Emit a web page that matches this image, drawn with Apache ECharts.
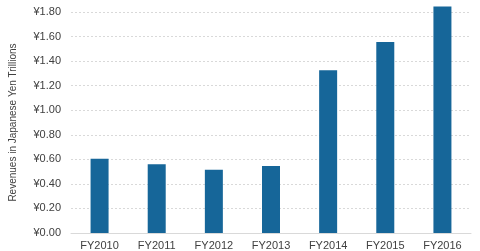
<!DOCTYPE html>
<html><head><meta charset="utf-8">
<script src="https://cdn.jsdelivr.net/npm/echarts@6/dist/echarts.min.js"></script>
<style>html,body{margin:0;padding:0;background:#fff}#c{width:480px;height:251px}</style>
</head><body><div id="c"></div>
<script>
const categories = ['FY2010','FY2011','FY2012','FY2013','FY2014','FY2015','FY2016'];
const revenues = [0.605, 0.56, 0.515, 0.545, 1.325, 1.555, 1.845];
const yTicks = [0, 0.2, 0.4, 0.6, 0.8, 1.0, 1.2, 1.4, 1.6, 1.8];

const chart = echarts.init(document.getElementById('c'), null, {renderer:'canvas'});
chart.setOption({
  animation:false,
  grid:{left:68, right:9, top:12, bottom:18, containLabel:false},
  xAxis:{type:'category', data:categories,
    axisLine:{lineStyle:{color:'#d9d9d9'}}, axisTick:{show:false},
    axisLabel:{color:'#404040', fontFamily:'Liberation Sans', fontSize:11, margin:7}},
  yAxis:{type:'value', min:yTicks[0], max:yTicks[yTicks.length-1], interval:0.2,
    name:'Revenues in Japanese Yen Trillions', nameLocation:'middle', nameGap:53,
    nameTextStyle:{color:'#404040', fontFamily:'Liberation Sans', fontSize:10},
    axisLine:{show:false}, axisTick:{show:false},
    splitLine:{lineStyle:{color:'#d9d9d9', type:[2,2]}},
    axisLabel:{color:'#404040', fontFamily:'Liberation Sans', fontSize:11, margin:10,
      formatter:v=>'¥'+v.toFixed(2)}},
  series:[{type:'bar', data:revenues, barWidth:18, clip:false,
    itemStyle:{color:'#166699'}}]
});
</script></body></html>
